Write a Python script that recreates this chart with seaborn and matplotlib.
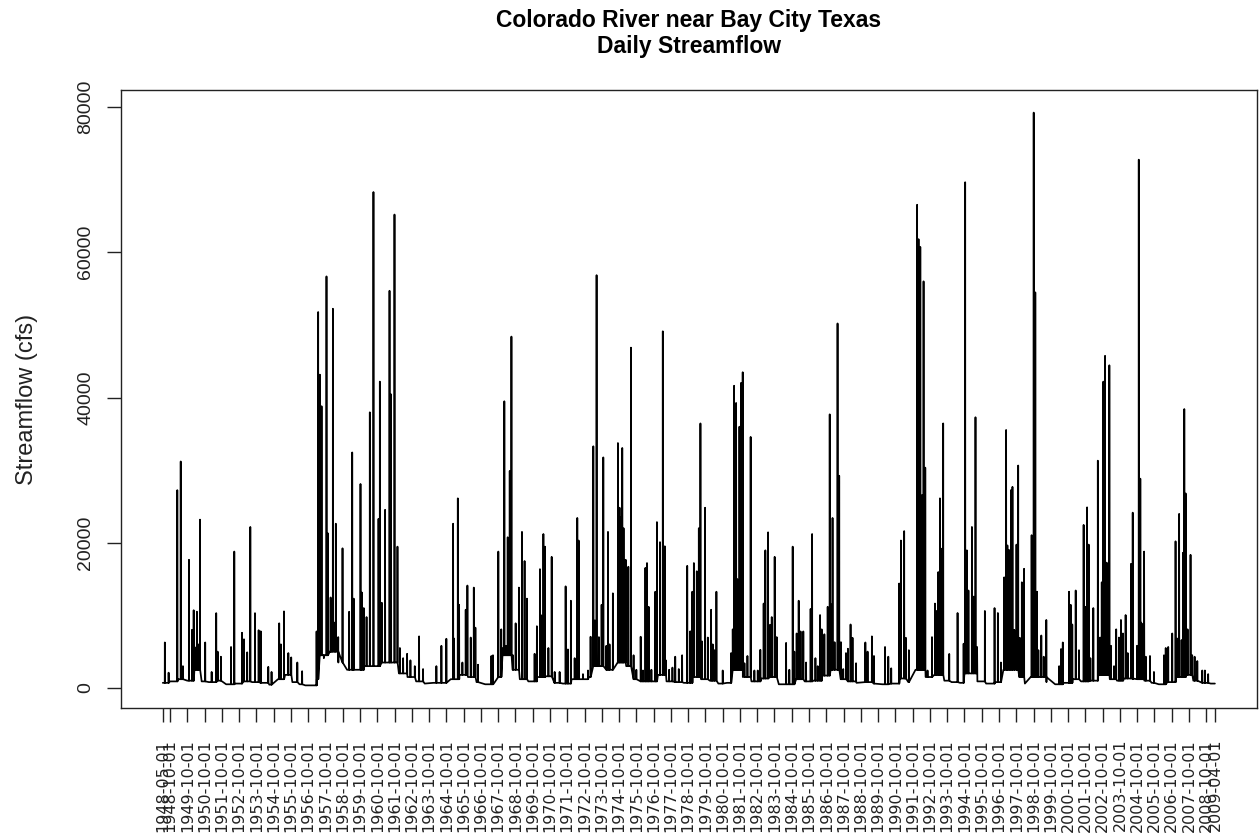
import numpy as np
import pandas as pd
import matplotlib
matplotlib.use("Agg")
import matplotlib.pyplot as plt
import matplotlib.dates as mdates
import seaborn as sns

# low flow level between events (cfs)
base_dates = ['1948-05-01', '1948-10-01', '1949-04-01', '1949-10-01', '1950-03-01', '1950-08-01',
              '1951-01-01', '1951-07-01', '1952-01-01', '1952-07-01', '1953-01-01', '1953-07-01',
              '1954-01-01', '1954-07-01', '1955-01-01', '1955-06-01', '1955-11-01', '1956-04-01',
              '1956-08-01', '1957-04-01', '1957-06-01', '1958-01-01', '1958-07-01', '1959-01-01',
              '1959-07-01', '1960-01-01', '1960-07-01', '1961-01-01', '1961-07-01', '1962-01-01',
              '1962-07-01', '1963-01-01', '1963-07-01', '1964-01-01', '1964-07-01', '1965-01-01',
              '1965-07-01', '1966-01-01', '1966-07-01', '1967-01-01', '1967-07-01', '1967-10-01',
              '1968-01-01', '1968-08-01', '1969-01-01', '1969-07-01', '1970-01-01', '1970-07-01',
              '1971-01-01', '1971-07-01', '1972-01-01', '1972-07-01', '1973-01-01', '1973-04-01',
              '1974-01-01', '1974-09-01', '1975-03-01', '1975-08-01', '1976-01-01', '1976-07-01',
              '1977-01-01', '1977-07-01', '1978-01-01', '1978-07-01', '1979-01-01', '1979-07-01',
              '1980-01-01', '1980-07-01', '1981-01-01', '1981-05-01', '1981-12-01', '1982-06-01',
              '1983-01-01', '1983-07-01', '1984-01-01', '1984-07-01', '1985-01-01', '1985-07-01',
              '1986-01-01', '1986-07-01', '1987-01-01', '1987-08-01', '1988-01-01', '1988-07-01',
              '1989-01-01', '1989-07-01', '1990-01-01', '1990-07-01', '1991-01-01', '1991-07-01',
              '1991-12-01', '1992-07-01', '1993-01-01', '1993-08-01', '1994-01-01', '1994-07-01',
              '1994-10-01', '1995-07-01', '1996-01-01', '1996-07-01', '1997-01-01', '1997-12-01',
              '1998-04-01', '1998-08-01', '1999-01-01', '1999-07-01', '2000-01-01', '2000-07-01',
              '2001-01-01', '2001-07-01', '2002-01-01', '2002-07-01', '2003-03-01', '2003-08-01',
              '2004-01-01', '2004-07-01', '2005-03-01', '2005-08-01', '2006-01-01', '2006-07-01',
              '2007-01-01', '2007-08-01', '2008-01-01', '2008-07-01', '2009-01-01', '2009-04-01']
base_flows = [700, 900, 1200, 1000, 2500, 900,
              800, 1000, 500, 600, 900, 800,
              700, 450, 1200, 1800, 800, 500,
              350, 1200, 4500, 5000, 3500, 2500,
              2500, 3000, 3000, 3500, 3500, 2000,
              1500, 900, 600, 700, 700, 1200,
              1800, 1500, 800, 500, 600, 1500,
              4500, 2500, 1200, 900, 1500, 1600,
              700, 600, 1200, 1200, 1500, 3000,
              2500, 3500, 3000, 1200, 900, 900,
              1800, 900, 800, 700, 1500, 1200,
              1000, 600, 700, 2500, 1500, 900,
              1300, 1500, 500, 500, 1200, 900,
              1000, 1700, 2500, 1200, 900, 700,
              800, 600, 500, 600, 1300, 800,
              2500, 1500, 1800, 1000, 800, 700,
              2000, 900, 600, 800, 2500, 1500,
              600, 1500, 1500, 800, 500, 700,
              1200, 900, 1000, 1800, 1200, 1000,
              1300, 1200, 1000, 700, 500, 800,
              1500, 1800, 1000, 700, 600, 600]

# storm peaks (cfs)
peak_dates = ['1948-06-13', '1948-09-01', '1949-03-04', '1949-05-15', '1949-07-01', '1949-11-06',
              '1950-01-08', '1950-02-13', '1950-03-10', '1950-04-22', '1950-05-20', '1950-06-27',
              '1950-10-15', '1951-02-28', '1951-06-05', '1951-07-05', '1951-09-12', '1952-04-13',
              '1952-06-21', '1952-12-01', '1953-01-12', '1953-03-21', '1953-05-26', '1953-09-02',
              '1953-11-18', '1954-01-01', '1954-06-10', '1954-08-18', '1955-01-27', '1955-03-04',
              '1955-05-08', '1955-08-08', '1955-10-08', '1956-02-14', '1956-05-26',
              '1957-03-27', '1957-04-30', '1957-06-05', '1957-07-11', '1957-08-28', '1957-10-23',
              '1957-11-21', '1958-01-18', '1958-02-10', '1958-03-07', '1958-04-15', '1958-05-08',
              '1958-06-28', '1958-09-27', '1959-02-14', '1959-04-20', '1959-05-22', '1959-10-12',
              '1959-11-10', '1959-12-20', '1960-02-17', '1960-04-26', '1960-07-12', '1960-10-27',
              '1960-11-24', '1961-01-04', '1961-03-15', '1961-06-17', '1961-07-19', '1961-09-30',
              '1961-12-02', '1962-01-22', '1962-04-01', '1962-06-24', '1962-09-02', '1962-12-03',
              '1963-03-04', '1963-05-27', '1964-03-04', '1964-06-18', '1964-10-01',
              '1965-02-21', '1965-03-14', '1965-05-31', '1965-06-28', '1965-09-05', '1965-11-14',
              '1965-12-20', '1966-02-28', '1966-05-04', '1966-06-07', '1966-08-01',
              '1967-05-11', '1967-06-14', '1967-10-05', '1967-12-06',
              '1968-01-10', '1968-02-09', '1968-03-15', '1968-04-20', '1968-05-10', '1968-06-02',
              '1968-07-08', '1968-08-10', '1968-10-05', '1968-12-13',
              '1969-02-16', '1969-04-12', '1969-06-01', '1969-11-10', '1969-12-28',
              '1970-03-03', '1970-04-01', '1970-05-15', '1970-06-17', '1970-08-29', '1970-11-06',
              '1971-01-08', '1971-04-23', '1971-08-28', '1971-10-16', '1971-12-17',
              '1972-03-06', '1972-05-01', '1972-05-30', '1972-08-29', '1972-12-13',
              '1973-02-06', '1973-04-05', '1973-05-08', '1973-06-13', '1973-08-01', '1973-09-27',
              '1973-11-02', '1974-01-05', '1974-02-09', '1974-03-14', '1974-05-23', '1974-09-07',
              '1974-10-12', '1974-11-10', '1974-12-08', '1975-01-05', '1975-02-18', '1975-04-16',
              '1975-06-10', '1975-08-04', '1975-10-02', '1976-01-01', '1976-02-19', '1976-04-10',
              '1976-05-14', '1976-06-18', '1976-08-15', '1976-11-06', '1976-12-10',
              '1977-02-13', '1977-04-13', '1977-05-26', '1977-06-17', '1977-08-25', '1977-11-03',
              '1978-01-01', '1978-03-17', '1978-05-27', '1978-09-12', '1978-11-14', '1978-12-28',
              '1979-01-30', '1979-04-02', '1979-05-15', '1979-06-18', '1979-07-23', '1979-09-24',
              '1979-11-21', '1980-01-30', '1980-03-04', '1980-04-08', '1980-05-21', '1980-10-01',
              '1981-03-28', '1981-05-01', '1981-05-30', '1981-06-15', '1981-07-12', '1981-08-05',
              '1981-08-22', '1981-09-20', '1981-10-05', '1981-10-26', '1981-11-10', '1981-11-28',
              '1982-01-04', '1982-03-08', '1982-05-15', '1982-08-02', '1982-10-12', '1982-12-06',
              '1983-02-14', '1983-03-22', '1983-05-19', '1983-07-01', '1983-08-04', '1983-10-05',
              '1983-11-17', '1984-06-03', '1984-08-10', '1984-10-20', '1984-11-24',
              '1985-01-12', '1985-02-24', '1985-04-05', '1985-06-02', '1985-07-30', '1985-11-03',
              '1985-12-05', '1986-02-13', '1986-04-03', '1986-05-22', '1986-06-25', '1986-08-21',
              '1986-10-30', '1986-12-12', '1987-01-15', '1987-02-10', '1987-03-25', '1987-05-27',
              '1987-07-01', '1987-08-07', '1987-09-24', '1987-11-21', '1988-01-01', '1988-02-26',
              '1988-04-08', '1988-06-21', '1989-01-04', '1989-02-20', '1989-05-22', '1989-07-05',
              '1990-02-24', '1990-05-04', '1990-07-05', '1990-12-20',
              '1991-01-26', '1991-04-05', '1991-05-11', '1991-07-13',
              '1992-01-04', '1992-01-20', '1992-02-03', '1992-02-20', '1992-03-11', '1992-03-25',
              '1992-04-16', '1992-05-05', '1992-05-19', '1992-06-05', '1992-06-24', '1992-08-11',
              '1992-11-13', '1993-01-15', '1993-02-18', '1993-03-26', '1993-04-30', '1993-06-03',
              '1993-07-08', '1993-11-13', '1994-05-08', '1994-09-13', '1994-10-16', '1994-11-21',
              '1994-12-24', '1995-03-07', '1995-04-16', '1995-05-22', '1995-06-25', '1995-12-06',
              '1996-06-28', '1996-09-06', '1996-11-10',
              '1997-01-18', '1997-02-28', '1997-03-27', '1997-05-01', '1997-06-09', '1997-07-12',
              '1997-08-19', '1997-10-05', '1997-11-10', '1997-12-14',
              '1998-01-26', '1998-03-14', '1998-08-21', '1998-10-04', '1998-11-07', '1998-12-13',
              '1999-01-11', '1999-03-14', '1999-05-04', '1999-06-28',
              '2000-03-25', '2000-05-04', '2000-06-10', '2000-10-20', '2000-11-24', '2000-12-28',
              '2001-03-10', '2001-05-19', '2001-08-25', '2001-10-01', '2001-11-06', '2001-12-10',
              '2002-01-15', '2002-03-18', '2002-06-21', '2002-08-08', '2002-09-12', '2002-10-16',
              '2002-11-05', '2002-11-21', '2002-12-25', '2003-01-15', '2003-02-20', '2003-03-27',
              '2003-05-30', '2003-07-15', '2003-09-12', '2003-10-23', '2003-12-05',
              '2004-01-30', '2004-03-14', '2004-05-23', '2004-06-28', '2004-09-28', '2004-11-03',
              '2004-12-06', '2004-12-25', '2005-01-19', '2005-02-24', '2005-04-01', '2005-06-28',
              '2005-09-20', '2006-04-20', '2006-05-27', '2006-07-19', '2006-10-12', '2006-12-21',
              '2007-01-25', '2007-03-07', '2007-04-27', '2007-05-26', '2007-06-24', '2007-07-23',
              '2007-09-02', '2007-11-03', '2007-12-08', '2008-01-28', '2008-03-25', '2008-07-08',
              '2008-09-02', '2008-11-10']
peak_flows = [6260, 2100, 27240, 31190, 3000, 17650,
              8000, 10700, 5600, 10500, 6000, 23180,
              6260, 2200, 10300, 5000, 4300, 5640,
              18780, 7600, 6700, 4900, 22170, 10300,
              7950, 7800, 2900, 2200, 8900, 6000,
              10540, 4800, 4200, 3500, 2300,
              7780, 51775, 43150, 38800, 4100, 56680,
              21300, 12460, 8000, 52230, 9000, 22620,
              7000, 19230, 10490, 32430, 12300, 28090,
              13140, 11000, 9760, 37960, 68300, 23290,
              42190, 11730, 24530, 54700, 40440, 65200,
              19460, 5500, 4100, 4700, 3800, 3000,
              7100, 2600, 3000, 5800, 6770,
              22620, 6800, 26110, 11450, 3500, 10770,
              14100, 6940, 13820, 8300, 3200,
              4400, 4500, 18780, 8070,
              5500, 39480, 5800, 20750, 7000, 29890,
              48390, 4500, 8900, 13820,
              21490, 17480, 12300, 4700, 8500,
              16360, 10000, 21200, 19460, 5500, 18050,
              2200, 2200, 13990, 5300, 12010,
              4100, 23410, 20300, 1900, 2400,
              7050, 33280, 9300, 56850, 7000, 11450,
              31750, 5800, 21490, 6000, 13030, 33730,
              24820, 23500, 33050, 22000, 17650, 16690,
              46870, 4500, 2500, 7050, 2400, 16530,
              17200, 11170, 2500, 13250, 22840,
              20080, 49120, 19510, 3800, 2500, 2800,
              4300, 2600, 4500, 16810, 7800, 13250,
              17200, 16070, 22000, 36430, 6400, 24820,
              6940, 10770, 6000, 5200, 13250, 2400,
              4800, 8070, 41620, 16000, 39250, 15000,
              6300, 35980, 13000, 42020, 18000, 43480,
              3400, 4400, 34570, 2400, 2400, 5250,
              11620, 18950, 21430, 8700, 9760, 18050,
              7000, 6200, 2500, 19460, 5000,
              7500, 12010, 7780, 7780, 3500, 10880,
              21200, 4100, 3000, 10040, 8070, 7390,
              11170, 37680, 11500, 23410, 6300, 50200,
              29220, 6300, 2600, 4800, 5400, 8740,
              6900, 3400, 6260, 5000, 7100, 4400,
              5640, 4300, 2700, 14380,
              20300, 21600, 6900, 5200,
              66550, 14000, 61810, 13000, 60740, 12500,
              26560, 13000, 56000, 12000, 30340, 2400,
              7000, 11620, 10600, 15960, 26110, 19180,
              36430, 4680, 10320, 6090, 69650, 18950,
              13420, 22170, 12580, 37280, 5640, 10600,
              11000, 10320, 3500,
              15230, 35530, 19630, 19000, 27240, 27690,
              8000, 19740, 30630, 6900,
              14550, 16410, 21040, 79240, 54480, 13250,
              5200, 7220, 4300, 9360,
              3000, 5360, 6260, 13250, 11450, 8740,
              13420, 5200, 22450, 11170, 24870, 19740,
              4100, 11000, 31300, 6940, 14550, 42190,
              12000, 45740, 17260, 10000, 44440, 5800,
              3000, 8070, 6940, 9360, 7500,
              10040, 4800, 17090, 24140, 5810, 72760,
              28820, 9000, 8800, 18780, 4300, 4400,
              2200, 4500, 5500, 5640, 7500, 20190,
              6800, 23970, 6600, 18610, 38410, 26790,
              8070, 18330, 4510, 4300, 3700, 2400,
              2400, 1900]

tick_dates = ['1948-05-01'] + ['%d-10-01' % y for y in range(1948, 2009)] + ['2009-04-01']
y_ticks = [0, 20000, 40000, 60000, 80000]

sns.set_theme(style='white')
plt.rcParams['font.family'] = ['Liberation Sans', 'DejaVu Sans']

# each peak rises from and falls back to the low flow level in effect at the time
bd = pd.to_datetime(base_dates)
rows = list(zip(bd, base_flows))
for d, v in zip(pd.to_datetime(peak_dates), peak_flows):
    i = max(bd.searchsorted(d, side='right') - 1, 0)
    b = base_flows[i]
    rows += [(d - pd.Timedelta(days=2), b), (d, v), (d + pd.Timedelta(days=3), b)]
df = pd.DataFrame(rows, columns=['date', 'flow']).sort_values('date')

fig = plt.figure(figsize=(12.6, 8.4), dpi=100)
ax = fig.add_axes([0.0958, 0.1568, 0.9018, 0.7364])

sns.lineplot(data=df, x='date', y='flow', color='black', linewidth=1.25,
             estimator=None, ax=ax)

# R style 4% padding on both axes
x0 = mdates.date2num(pd.Timestamp(tick_dates[0]))
x1 = mdates.date2num(pd.Timestamp(tick_dates[-1]))
ax.set_xlim(x0 - 0.04 * (x1 - x0), x1 + 0.04 * (x1 - x0))
lo, hi = df['flow'].min(), df['flow'].max()
ax.set_ylim(lo - 0.04 * (hi - lo), hi + 0.04 * (hi - lo))

ax.set_xticks(mdates.date2num(pd.to_datetime(tick_dates)))
ax.set_xticklabels(tick_dates, rotation=90, family=['DejaVu Sans'], fontsize=11.5)
ax.set_yticks(y_ticks)
ax.set_yticklabels([str(t) for t in y_ticks], rotation=90, va='center', fontsize=14)
ax.tick_params(axis='both', length=10, width=1.0, color='#222222',
               labelcolor='#222222', direction='out', bottom=True, left=True)
ax.tick_params(axis='x', pad=12)
ax.tick_params(axis='y', pad=9)
for s in ax.spines.values():
    s.set_color('#222222')
    s.set_linewidth(1.0)

ax.set_xlabel('')
ax.set_ylabel('')
fig.text(27 / 1260, 0.5 * (0.1568 + 0.8932), 'Streamflow (cfs)', rotation=90,
         ha='center', va='center', fontsize=17, color='#222222')
fig.text(689 / 1260, 1 - 27 / 840, 'Colorado River near Bay City Texas',
         ha='center', va='baseline', fontsize=16.5, fontweight='bold', color='black')
fig.text(689 / 1260, 1 - 52.5 / 840, 'Daily Streamflow',
         ha='center', va='baseline', fontsize=16.5, fontweight='bold', color='black')

fig.savefig('out.png', dpi=100)
